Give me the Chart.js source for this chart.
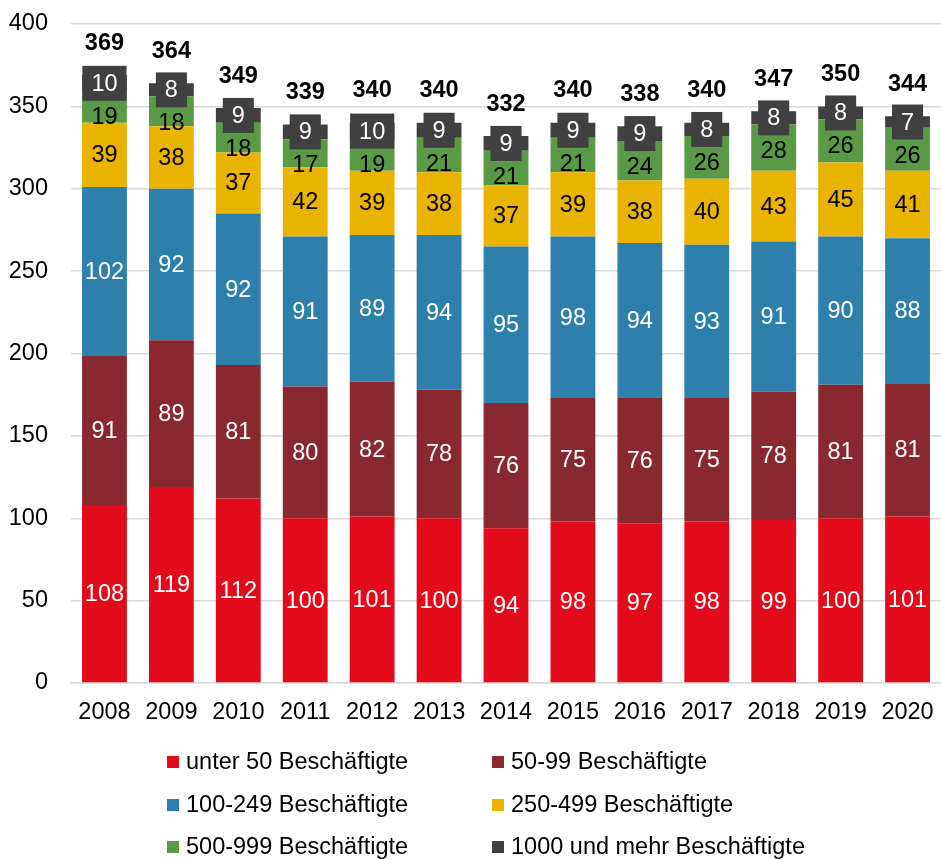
<!DOCTYPE html>
<html lang="de">
<head>
    <meta charset="UTF-8">
    <title>Betriebe nach Beschäftigtengröße</title>
    <style>
        body { margin: 0; background: #fff; }
        #wrap { width: 941px; height: 859px; position: relative; }
    </style>
</head>
<body>
    <div id="wrap"><canvas id="chart"></canvas></div>

    <script src="https://cdn.jsdelivr.net/npm/chart.js"></script>
    <script>
        const years = ['2008', '2009', '2010', '2011', '2012', '2013', '2014', '2015', '2016', '2017', '2018', '2019', '2020'];
        const unter50 = [108, 119, 112, 100, 101, 100, 94, 98, 97, 98, 99, 100, 101];
        const b50_99 = [91, 89, 81, 80, 82, 78, 76, 75, 76, 75, 78, 81, 81];
        const b100_249 = [102, 92, 92, 91, 89, 94, 95, 98, 94, 93, 91, 90, 88];
        const b250_499 = [39, 38, 37, 42, 39, 38, 37, 39, 38, 40, 43, 45, 41];
        const b500_999 = [19, 18, 18, 17, 19, 21, 21, 21, 24, 26, 28, 26, 26];
        const b1000 = [10, 8, 9, 9, 10, 9, 9, 9, 9, 8, 8, 8, 7];
        const totals = [369, 364, 349, 339, 340, 340, 332, 340, 338, 340, 347, 350, 344];
        const yTicks = [0, 50, 100, 150, 200, 250, 300, 350, 400];

        const FONT = '"Liberation Sans", Arial, sans-serif';
        const FS = 23.5;

        const series = [
            { label: 'unter 50 Beschäftigte', data: unter50, color: '#E30A1B', text: '#fff' },
            { label: '50-99 Beschäftigte', data: b50_99, color: '#8A2830', text: '#fff' },
            { label: '100-249 Beschäftigte', data: b100_249, color: '#2E80AC', text: '#fff' },
            { label: '250-499 Beschäftigte', data: b250_499, color: '#E9B300', text: '#000' },
            { label: '500-999 Beschäftigte', data: b500_999, color: '#5A9A46', text: '#000' },
            { label: '1000 und mehr Beschäftigte', data: b1000, color: '#404040', text: '#fff', boxed: true }
        ];

        // segment labels, dark boxes for the top series, totals above
        const labelPlugin = {
            id: 'segLabels',
            afterDatasetsDraw(chart) {
                const ctx = chart.ctx;
                const last = chart.data.datasets.length - 1;
                const topMeta = chart.getDatasetMeta(last);
                ctx.save();
                ctx.textAlign = 'center';
                ctx.textBaseline = 'middle';
                chart.data.datasets.forEach((ds, di) => {
                    const meta = chart.getDatasetMeta(di);
                    meta.data.forEach((bar, i) => {
                        let cy = (bar.y + bar.base) / 2;
                        // the label just under the boxed one is pushed down so it stays visible
                        if (di === last - 1) {
                            const top = topMeta.data[i];
                            const boxBottom = (top.y + top.base) / 2 + 17.5;
                            cy = Math.max(cy, boxBottom + 15.5);
                        }
                        const txt = String(ds.data[i]);
                        ctx.font = FS + 'px ' + FONT;
                        if (series[di].boxed) {
                            const w = ctx.measureText(txt).width + 18;
                            ctx.fillStyle = '#404040';
                            ctx.fillRect(bar.x - w / 2, cy - 17.5, w, 35);
                        }
                        ctx.fillStyle = series[di].text;
                        ctx.fillText(txt, bar.x, cy + 1);
                    });
                });
                ctx.font = 'bold ' + FS + 'px ' + FONT;
                ctx.fillStyle = '#000';
                topMeta.data.forEach((bar, i) => {
                    ctx.fillText(String(totals[i]), bar.x, bar.y - 32);
                });
                ctx.restore();
            }
        };

        // two-column legend under the axis
        const legendPlugin = {
            id: 'twoColLegend',
            afterDraw(chart) {
                const ctx = chart.ctx;
                const cols = [167, 492];
                const rows = [762, 805, 847];
                ctx.save();
                ctx.font = FS + 'px ' + FONT;
                ctx.textBaseline = 'middle';
                ctx.textAlign = 'left';
                series.forEach((s, i) => {
                    const x = cols[i % 2];
                    const y = rows[Math.floor(i / 2)];
                    ctx.fillStyle = s.color;
                    ctx.fillRect(x, y - 6, 12, 12);
                    ctx.fillStyle = '#000';
                    ctx.fillText(s.label, x + 19, y + 1);
                });
                ctx.restore();
            }
        };

        new Chart(document.getElementById('chart'), {
            type: 'bar',
            data: {
                labels: years,
                datasets: series.map(s => ({
                    label: s.label,
                    data: s.data,
                    backgroundColor: s.color,
                    borderWidth: 0,
                    barPercentage: 0.67,
                    categoryPercentage: 1
                }))
            },
            options: {
                responsive: true,
                maintainAspectRatio: false,
                animation: false,
                layout: { padding: { top: 24, right: 0, bottom: 136, left: 0 } },
                plugins: {
                    legend: { display: false },
                    tooltip: { enabled: false }
                },
                scales: {
                    x: {
                        stacked: true,
                        grid: { display: false, drawTicks: false },
                        border: { color: '#D9D9D9', width: 1.5 },
                        ticks: { color: '#000', font: { family: FONT, size: FS }, padding: 15, maxRotation: 0 },
                        afterFit(scale) {
                            scale.height = 40;
                            scale.paddingLeft = 0;
                            scale.paddingRight = 0;
                        }
                    },
                    y: {
                        stacked: true,
                        min: 0,
                        max: 400,
                        afterBuildTicks(scale) { scale.ticks = yTicks.map(v => ({ value: v })); },
                        grid: { color: '#D9D9D9', lineWidth: 1.5, drawTicks: false },
                        border: { display: false },
                        ticks: { color: '#000', font: { family: FONT, size: FS }, padding: 23 },
                        afterFit(scale) {
                            scale.width = 71;
                            scale.paddingTop = 0;
                            scale.paddingBottom = 0;
                        }
                    }
                }
            },
            plugins: [labelPlugin, legendPlugin]
        });
    </script>
</body>
</html>
